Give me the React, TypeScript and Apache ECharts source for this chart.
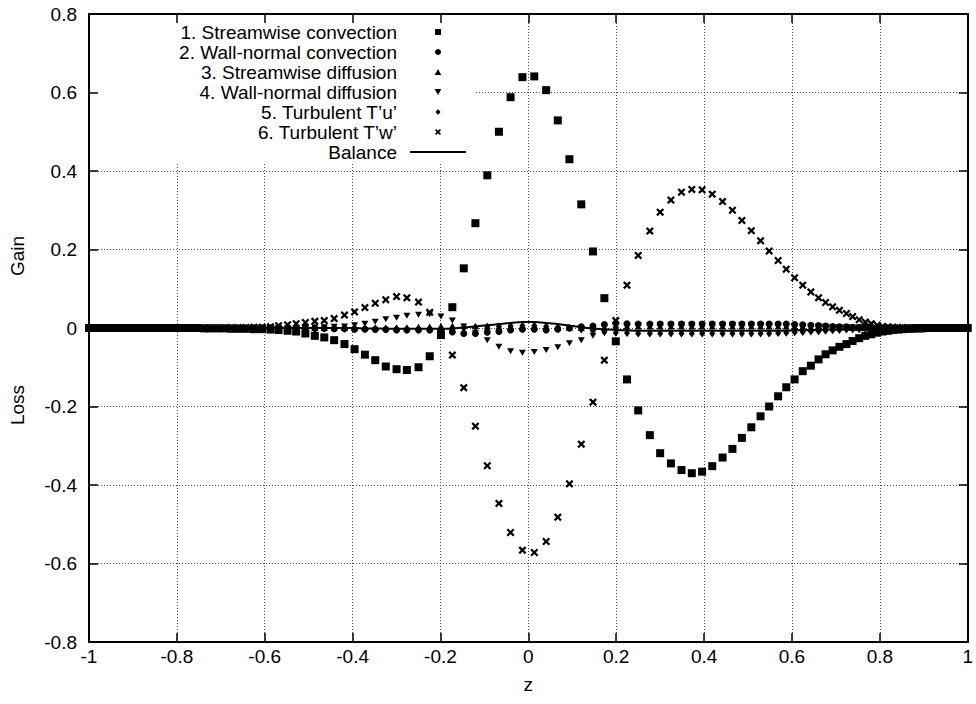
import React, { useEffect, useRef } from "react";
import * as echarts from "echarts";

// z positions of the grid points (right half; left half is the mirror image)
const zRight = [
  0.0135, 0.0405, 0.0670, 0.0935, 0.1205, 0.1470, 0.1730, 0.1990, 0.2245, 0.2500,
  0.2765, 0.3000, 0.3245, 0.3485, 0.3720, 0.3955, 0.4185, 0.4420, 0.4645, 0.4860,
  0.5075, 0.5285, 0.5480, 0.5685, 0.5870, 0.6060, 0.6245, 0.6430, 0.6605, 0.6765,
  0.6925, 0.7080, 0.7240, 0.7380, 0.7530, 0.7670, 0.7805, 0.7940, 0.8065, 0.8185,
  0.8300, 0.8410, 0.8515, 0.8615, 0.8710, 0.8800, 0.8885, 0.8965, 0.9040, 0.9140,
  0.9240, 0.9340, 0.9440, 0.9540, 0.9630, 0.9720, 0.9800, 0.9870, 0.9930, 0.9980,
  1.0000,
];

// Each series: values at -zRight[i] (L, from centre outward) and +zRight[i] (R)
const streamConvL = [
  0.639, 0.588, 0.500, 0.389, 0.267, 0.152, 0.053, -0.018, -0.072, -0.100,
  -0.107, -0.105, -0.098, -0.082, -0.068, -0.054, -0.041, -0.031, -0.024, -0.020,
  -0.014, -0.009, -0.007, -0.005, -0.004, -0.003, -0.003, -0.002, -0.002, -0.002,
  -0.001, -0.001, -0.001, -0.001, 0, 0, 0, 0, 0, 0,
  0, 0, 0, 0, 0, 0, 0, 0, 0, 0,
  0, 0, 0, 0, 0, 0, 0, 0, 0, 0,
  0,
];
const streamConvR = [
  0.641, 0.606, 0.529, 0.430, 0.315, 0.195, 0.076, -0.034, -0.131, -0.210,
  -0.273, -0.319, -0.345, -0.362, -0.370, -0.366, -0.352, -0.330, -0.308, -0.280,
  -0.253, -0.225, -0.200, -0.174, -0.151, -0.131, -0.110, -0.096, -0.080, -0.067,
  -0.057, -0.048, -0.041, -0.033, -0.026, -0.020, -0.016, -0.012, -0.009, -0.007,
  -0.005, -0.004, -0.003, -0.002, -0.002, -0.001, -0.001, -0.001, 0, 0,
  0, 0, 0, 0, 0, 0, 0, 0, 0, 0,
  0,
];
const wallConvL = [
  -0.003, -0.005, -0.009, -0.011, -0.014, -0.014, -0.010, -0.007, -0.005, -0.005,
  -0.005, -0.005, -0.004, -0.004, -0.003, -0.003, -0.002, -0.002, -0.001, -0.001,
  0, 0, 0, 0, 0, 0, 0, 0, 0, 0,
  0, 0, 0, 0, 0, 0, 0, 0, 0, 0,
  0, 0, 0, 0, 0, 0, 0, 0, 0, 0,
  0, 0, 0, 0, 0, 0, 0, 0, 0, 0,
  0,
];
const wallConvR = [
  -0.003, -0.005, -0.003, 0.000, 0.003, 0.005, 0.009, 0.012, 0.011, 0.010,
  0.010, 0.010, 0.010, 0.010, 0.010, 0.010, 0.010, 0.010, 0.010, 0.010,
  0.010, 0.010, 0.010, 0.010, 0.010, 0.009, 0.008, 0.007, 0.006, 0.005,
  0.004, 0.003, 0.003, 0.002, 0.002, 0.001, 0.001, 0, 0, 0,
  0, 0, 0, 0, 0, 0, 0, 0, 0, 0,
  0, 0, 0, 0, 0, 0, 0, 0, 0, 0,
  0,
];
const streamDiffL = [
  0.003, 0.003, 0.003, 0.004, 0.005, 0.006, 0.006, 0.005, 0.004, 0.003,
  0.002, 0.002, 0.001, 0.001, 0.001, 0, 0, 0, 0, 0,
  0, 0, 0, 0, 0, 0, 0, 0, 0, 0,
  0, 0, 0, 0, 0, 0, 0, 0, 0, 0,
  0, 0, 0, 0, 0, 0, 0, 0, 0, 0,
  0, 0, 0, 0, 0, 0, 0, 0, 0, 0,
  0,
];
const streamDiffR = [
  0.003, 0.002, 0.001, 0, 0, 0.001, 0.002, 0.003, 0.004, 0.004,
  0.004, 0.004, 0.004, 0.004, 0.004, 0.004, 0.004, 0.004, 0.004, 0.004,
  0.004, 0.004, 0.004, 0.004, 0.004, 0.003, 0.003, 0.002, 0.002, 0.002,
  0.001, 0.001, 0.001, 0, 0, 0, 0, 0, 0, 0,
  0, 0, 0, 0, 0, 0, 0, 0, 0, 0,
  0, 0, 0, 0, 0, 0, 0, 0, 0, 0,
  0,
];
const wallDiffL = [
  -0.063, -0.059, -0.048, -0.031, -0.012, 0.004, 0.019, 0.029, 0.035, 0.034,
  0.031, 0.026, 0.022, 0.016, 0.011, 0.007, 0.004, 0.003, 0.002, 0.001,
  0.001, 0, 0, 0, 0, 0, 0, 0, 0, 0,
  0, 0, 0, 0, 0, 0, 0, 0, 0, 0,
  0, 0, 0, 0, 0, 0, 0, 0, 0, 0,
  0, 0, 0, 0, 0, 0, 0, 0, 0, 0,
  0,
];
const wallDiffR = [
  -0.061, -0.056, -0.049, -0.039, -0.031, -0.020, -0.012, -0.004, 0.002, 0.005,
  0.007, 0.008, 0.008, 0.008, 0.008, 0.008, 0.008, 0.008, 0.008, 0.008,
  0.007, 0.007, 0.006, 0.006, 0.005, 0.005, 0.004, 0.004, 0.003, 0.003,
  0.002, 0.002, 0.002, 0.001, 0.001, 0.001, 0, 0, 0, 0,
  0, 0, 0, 0, 0, 0, 0, 0, 0, 0,
  0, 0, 0, 0, 0, 0, 0, 0, 0, 0,
  0,
];
const turbTuL = [
  0.006, 0.005, 0.004, 0.003, 0.002, 0.000, -0.002, -0.003, -0.004, -0.004,
  -0.004, -0.003, -0.003, -0.002, -0.002, -0.001, -0.001, 0, 0, 0,
  0, 0, 0, 0, 0, 0, 0, 0, 0, 0,
  0, 0, 0, 0, 0, 0, 0, 0, 0, 0,
  0, 0, 0, 0, 0, 0, 0, 0, 0, 0,
  0, 0, 0, 0, 0, 0, 0, 0, 0, 0,
  0,
];
const turbTuR = [
  0.006, 0.004, 0.002, 0.000, -0.004, -0.007, -0.010, -0.012, -0.013, -0.014,
  -0.014, -0.014, -0.014, -0.014, -0.014, -0.014, -0.014, -0.014, -0.014, -0.014,
  -0.014, -0.014, -0.014, -0.013, -0.012, -0.011, -0.010, -0.009, -0.008, -0.007,
  -0.006, -0.005, -0.004, -0.003, -0.003, -0.002, -0.002, -0.001, -0.001, 0,
  0, 0, 0, 0, 0, 0, 0, 0, 0, 0,
  0, 0, 0, 0, 0, 0, 0, 0, 0, 0,
  0,
];
const turbTwL = [
  -0.566, -0.521, -0.447, -0.351, -0.250, -0.152, -0.069, -0.012, 0.040, 0.066,
  0.077, 0.080, 0.072, 0.063, 0.052, 0.041, 0.033, 0.024, 0.019, 0.017,
  0.014, 0.011, 0.008, 0.006, 0.003, 0.002, 0.002, 0.001, 0.001, 0.001,
  0, 0, 0, 0, 0, 0, 0, 0, 0, 0,
  0, 0, 0, 0, 0, 0, 0, 0, 0, 0,
  0, 0, 0, 0, 0, 0, 0, 0, 0, 0,
  0,
];
const turbTwR = [
  -0.572, -0.544, -0.482, -0.397, -0.296, -0.189, -0.082, 0.019, 0.109, 0.185,
  0.247, 0.295, 0.326, 0.346, 0.353, 0.352, 0.341, 0.322, 0.300, 0.274,
  0.248, 0.222, 0.196, 0.172, 0.150, 0.128, 0.109, 0.092, 0.077, 0.065,
  0.054, 0.045, 0.037, 0.029, 0.021, 0.015, 0.011, 0.007, 0.004, 0.003,
  0.002, 0.001, 0.001, 0, 0, 0, 0, 0, 0, 0,
  0, 0, 0, 0, 0, 0, 0, 0, 0, 0,
  0,
];
const balanceL = [
  0.015, 0.013, 0.010, 0.007, 0.004, 0.001, -0.001, -0.002, -0.002, -0.002,
  -0.002, -0.002, -0.002, -0.001, -0.001, 0, 0, 0, 0, 0,
  0, 0, 0, 0, 0, 0, 0, 0, 0, 0,
  0, 0, 0, 0, 0, 0, 0, 0, 0, 0,
  0, 0, 0, 0, 0, 0, 0, 0, 0, 0,
  0, 0, 0, 0, 0, 0, 0, 0, 0, 0,
  0,
];
const balanceR = [
  0.015, 0.013, 0.010, 0.006, 0.002, -0.001, -0.003, -0.005, -0.006, -0.007,
  -0.007, -0.007, -0.007, -0.007, -0.007, -0.007, -0.007, -0.007, -0.007, -0.007,
  -0.007, -0.007, -0.007, -0.007, -0.007, -0.006, -0.006, -0.005, -0.005, -0.004,
  -0.004, -0.003, -0.003, -0.002, -0.002, -0.001, -0.001, 0, 0, 0,
  0, 0, 0, 0, 0, 0, 0, 0, 0, 0,
  0, 0, 0, 0, 0, 0, 0, 0, 0, 0,
  0,
];

const seriesNames = [
  "1. Streamwise convection",
  "2. Wall-normal convection",
  "3. Streamwise diffusion",
  "4. Wall-normal diffusion",
  "5. Turbulent T\u2019u\u2019",
  "6. Turbulent T\u2019w\u2019",
  "Balance",
];

const xTicks = { min: -1, max: 1, interval: 0.2 };
const yTicks = { min: -0.8, max: 0.8, interval: 0.2 };

const FONT = "Liberation Sans";
const FS = 19;

const zAll = [...zRight.map((v) => -v).reverse(), ...zRight];
function pairs(left: number[], right: number[]) {
  const vals = [...left.slice().reverse(), ...right];
  return zAll.map((x, k) => [x, vals[k]]);
}

const SQUARE = "path://M0,0L10,0L10,10L0,10Z";
const UP_TRI = "path://M5,0L10,9L0,9Z";
const DOWN_TRI = "path://M0,0L10,0L5,9Z";
const DIAMOND = "path://M5,0L10,6L5,12L0,6Z";
const CROSS = "path://M0,2L2,0L5,3L8,0L10,2L7,5L10,8L8,10L5,7L2,10L0,8L3,5Z";
const BAR = "path://M0,0L56,0L56,2L0,2Z";

const fmt = (v: number) => String(Math.round(v * 10) / 10);

export default function App() {
  const ref = useRef<HTMLDivElement>(null);
  useEffect(() => {
    if (!ref.current) return;
    const chart = echarts.init(ref.current, undefined, { renderer: "svg" });
    const frameLine = { show: true, onZero: false, lineStyle: { color: "#000", width: 2 } };
    const ticks = { show: true, inside: true, length: 9, lineStyle: { color: "#000", width: 1.5 } };
    const gridLine = { show: true, lineStyle: { color: "#444", width: 1, type: [1, 2] } };
    const labelStyle = { fontSize: FS, fontFamily: FONT, color: "#000" };
    const markerBase = {
      type: "scatter", xAxisIndex: 0, yAxisIndex: 0, z: 2,
      itemStyle: { color: "#000", opacity: 1 },
    };

    const option: any = {
      animation: false,
      backgroundColor: "#fff",
      grid: { left: 89, right: 3, top: 14, bottom: 62, containLabel: false },
      xAxis: [
        {
          type: "value", ...xTicks, position: "bottom", z: 3,
          axisLine: frameLine, axisTick: ticks,
          axisLabel: { show: true, margin: 5, formatter: fmt, ...labelStyle },
          splitLine: { show: false },
          name: "z", nameLocation: "middle", nameGap: 33,
          nameTextStyle: { ...labelStyle },
        },
        {
          type: "value", ...xTicks, position: "top", z: 3,
          axisLine: frameLine, axisTick: ticks,
          axisLabel: { show: false }, splitLine: { show: false },
        },
        {
          type: "value", ...xTicks, position: "bottom", z: 0,
          axisLine: { show: false, onZero: false }, axisTick: { show: false },
          axisLabel: { show: false }, splitLine: gridLine,
        },
      ],
      yAxis: [
        {
          type: "value", ...yTicks, position: "left", z: 3,
          axisLine: frameLine, axisTick: ticks,
          axisLabel: { show: true, margin: 12, formatter: fmt, ...labelStyle },
          splitLine: { show: false },
        },
        {
          type: "value", ...yTicks, position: "right", z: 3,
          axisLine: frameLine, axisTick: ticks,
          axisLabel: { show: false }, splitLine: { show: false },
        },
        {
          type: "value", ...yTicks, position: "left", z: 0,
          axisLine: { show: false, onZero: false }, axisTick: { show: false },
          axisLabel: { show: false }, splitLine: gridLine,
        },
      ],
      legend: {
        orient: "vertical",
        right: 510,
        top: 22,
        align: "right",
        padding: 0,
        itemGap: 0,
        itemWidth: 56,
        itemHeight: 6,
        selectedMode: false,
        symbolKeepAspect: true,
        itemStyle: { opacity: 1 },
        textStyle: { ...labelStyle, lineHeight: 20, padding: [0, 8, 0, 0] },
        data: [
          { name: seriesNames[0], icon: SQUARE },
          { name: seriesNames[1], icon: "circle" },
          { name: seriesNames[2], icon: UP_TRI },
          { name: seriesNames[3], icon: DOWN_TRI },
          { name: seriesNames[4], icon: DIAMOND },
          { name: seriesNames[5], icon: CROSS },
          { name: seriesNames[6], icon: BAR },
        ],
      },
      graphic: [
        { type: "rect", z: 1, silent: true, shape: { x: 91, y: 16, width: 385, height: 146 }, style: { fill: "#fff" } },
        {
          type: "text", x: 17, y: 256, rotation: Math.PI / 2,
          style: { text: "Gain", align: "center", verticalAlign: "middle", fontSize: FS, fontFamily: FONT, fill: "#000" },
        },
        {
          type: "text", x: 17, y: 405, rotation: Math.PI / 2,
          style: { text: "Loss", align: "center", verticalAlign: "middle", fontSize: FS, fontFamily: FONT, fill: "#000" },
        },
      ],
      series: [
        { ...markerBase, name: seriesNames[0], symbol: SQUARE, symbolSize: 8, data: pairs(streamConvL, streamConvR) },
        { ...markerBase, name: seriesNames[1], symbol: "circle", symbolSize: 7, data: pairs(wallConvL, wallConvR) },
        { ...markerBase, name: seriesNames[2], symbol: UP_TRI, symbolSize: [7, 6], data: pairs(streamDiffL, streamDiffR) },
        { ...markerBase, name: seriesNames[3], symbol: DOWN_TRI, symbolSize: [7, 6], data: pairs(wallDiffL, wallDiffR) },
        { ...markerBase, name: seriesNames[4], symbol: DIAMOND, symbolSize: [6, 8], data: pairs(turbTuL, turbTuR) },
        { ...markerBase, name: seriesNames[5], symbol: CROSS, symbolSize: 8, data: pairs(turbTwL, turbTwR) },
        {
          type: "line", name: seriesNames[6], xAxisIndex: 0, yAxisIndex: 0, z: 3,
          symbol: "none", showSymbol: false, smooth: 0.3,
          lineStyle: { color: "#000", width: 2 }, itemStyle: { color: "#000" },
          data: pairs(balanceL, balanceR),
        },
      ],
    };
    chart.setOption(option);
    return () => chart.dispose();
  }, []);
  return (
    <div
      ref={ref}
      style={{ position: "fixed", left: 0, top: 0, width: 976, height: 704, background: "#fff" }}
    />
  );
}
